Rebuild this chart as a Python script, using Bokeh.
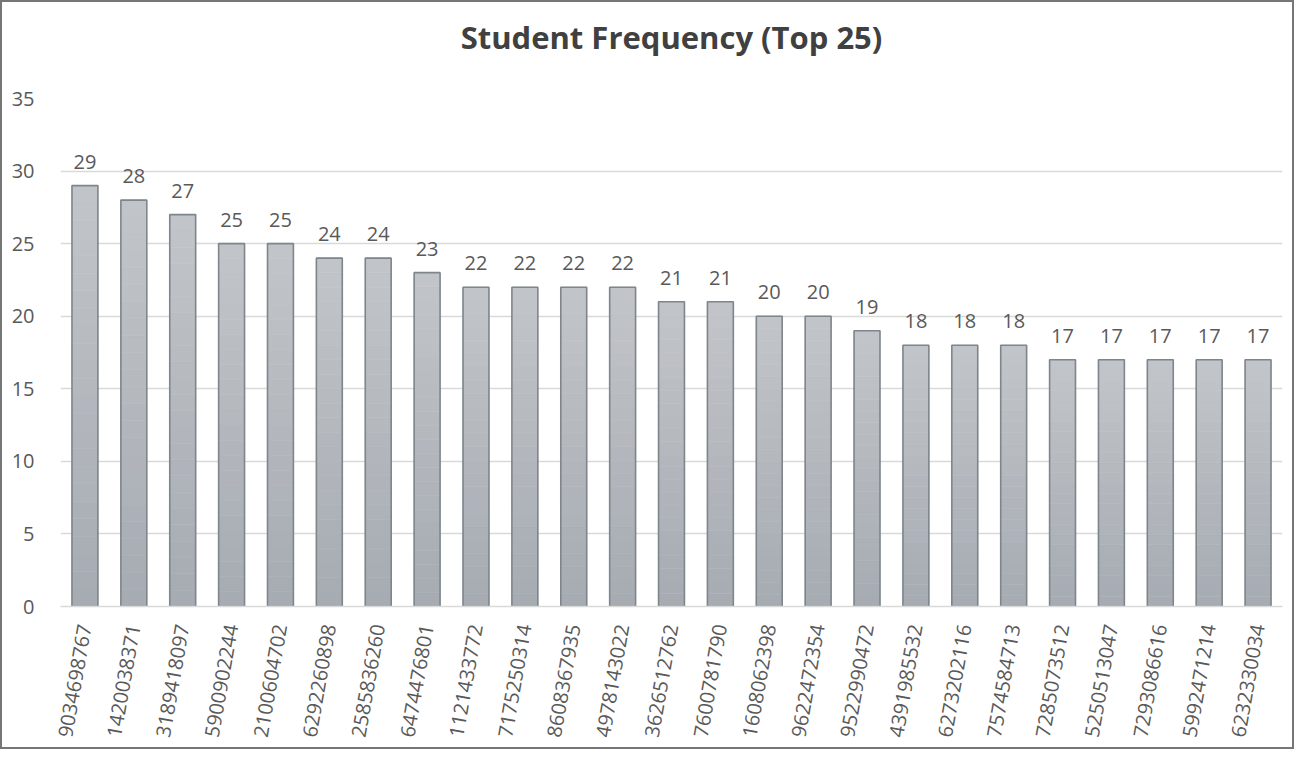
import math
from bokeh.plotting import figure
from bokeh.models import ColumnDataSource, FactorRange, Range1d, SingleIntervalTicker, Title
from bokeh.core.properties import value
from bokeh.embed import file_html
from bokeh.resources import INLINE

title_text = "Student Frequency (Top 25)"
students = ["9034698767", "1420038371", "3189418097", "5900902244", "2100604702",
            "6292260898", "2585836260", "6474476801", "1121433772", "7175250314",
            "8608367935", "4978143022", "3626512762", "7600781790", "1608062398",
            "9622472354", "9522990472", "4391985532", "6273202116", "7574584713",
            "7285073512", "5250513047", "7293086616", "5992471214", "6232330034"]
counts = [29, 28, 27, 25, 25, 24, 24, 23, 22, 22, 22, 22, 21, 21, 20, 20, 19,
          18, 18, 18, 17, 17, 17, 17, 17]

FONT = "Open Sans"
TXT = "#595959"

p = figure(x_range=FactorRange(factors=students, range_padding=0),
           y_range=Range1d(0, 35),
           width=1294, height=749, output_backend="svg", toolbar_location=None,
           min_border_left=58, min_border_right=14, min_border_top=96,
           min_border_bottom=145)
p.styles = {"border": "2px solid #767676"}

# spacer panel nearest the frame, then the real title above it
p.add_layout(Title(text=" ", text_font=FONT, text_font_size="25px", standoff=0), "above")
p.add_layout(Title(text=title_text, align="center", vertical_align="bottom",
                   text_font=FONT, text_font_style="bold", text_font_size="31px",
                   text_color="#404040", standoff=10), "above")

p.outline_line_color = None
p.xgrid.grid_line_color = None
p.ygrid.grid_line_color = "#d9d9d9"
p.ygrid.grid_line_width = 1.3

p.yaxis.ticker = SingleIntervalTicker(interval=5)
p.yaxis.axis_line_color = None
p.yaxis.major_tick_line_color = None
p.yaxis.minor_tick_line_color = None
p.yaxis.major_label_text_font = FONT
p.yaxis.major_label_text_font_size = "20px"
p.yaxis.major_label_text_color = TXT
p.yaxis.major_label_standoff = 20

p.xaxis.axis_line_color = "#d9d9d9"
p.xaxis.axis_line_width = 1.5
p.xaxis.major_tick_line_color = None
p.xaxis.minor_tick_line_color = None
p.xaxis.major_label_text_font = FONT
p.xaxis.major_label_text_font_size = "20px"
p.xaxis.major_label_text_color = TXT
p.xaxis.major_label_orientation = math.radians(80)
p.xaxis.major_label_standoff = 12

# gradient fill: light at top of each bar, darker at bottom
N = 24
top_rgb = (0xC2, 0xC5, 0xC8)
bot_rgb = (0xA6, 0xAB, 0xB3)
for k in range(N):
    f = (k + 0.5) / N
    col = "#%02x%02x%02x" % tuple(int(round(b + (t - b) * f)) for t, b in zip(top_rgb, bot_rgb))
    src = ColumnDataSource(dict(x=students,
                                bottom=[c * k / N for c in counts],
                                top=[c * (k + 1) / N for c in counts]))
    p.vbar(x="x", bottom="bottom", top="top", width=0.53, source=src,
           fill_color=col, line_color=col, line_width=0.6)

src = ColumnDataSource(dict(x=students, top=counts, lab=[str(c) for c in counts]))
p.vbar(x="x", top="top", bottom=0, width=0.53, source=src, fill_color=None,
       line_color="#7e868c", line_width=1.6)
p.text(x="x", y="top", text="lab", source=src, text_align="center",
       text_baseline="bottom", y_offset=-17, text_font=value(FONT),
       text_font_size="20px", text_color=TXT)

open("out.html", "w").write(file_html(p, INLINE))
